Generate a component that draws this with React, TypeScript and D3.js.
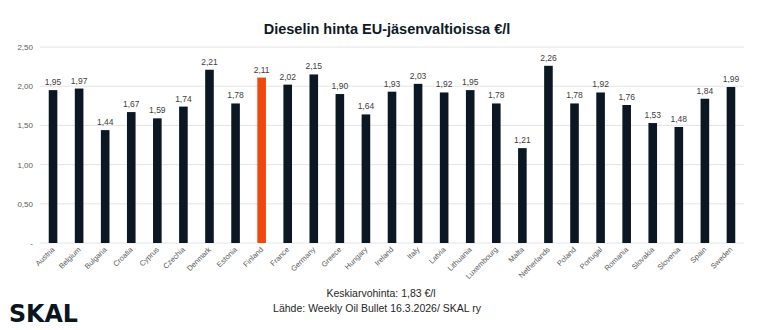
import React from "react";
import * as d3 from "d3";

const countries = ["Austria","Belgium","Bulgaria","Croatia","Cyprus","Czechia","Denmark","Estonia","Finland","France","Germany","Greece","Hungary","Ireland","Italy","Latvia","Lithuania","Luxembourg","Malta","Netherlands","Poland","Portugal","Romania","Slovakia","Slovenia","Spain","Sweden"];
const prices = [1.95,1.97,1.44,1.67,1.59,1.74,2.21,1.78,2.11,2.02,2.15,1.90,1.64,1.93,2.03,1.92,1.95,1.78,1.21,2.26,1.78,1.92,1.76,1.53,1.48,1.84,1.99];
const yTicks = [0, 0.5, 1, 1.5, 2, 2.5];
const highlight = "Finland";
const title = "Dieselin hinta EU-jäsenvaltioissa €/l";
const footer1 = "Keskiarvohinta: 1,83 €/l";
const footer2 = "Lähde: Weekly Oil Bullet 16.3.2026/ SKAL ry";

const W = 767, H = 330;
const fmt = (v: number) => (v === 0 ? "-" : d3.format(".2f")(v).replace(".", ","));

export default function App() {
  const x = d3.scaleBand<string>().domain(countries).range([40, 744]).paddingInner(0.67).paddingOuter(0.335);
  const y = d3.scaleLinear().domain([0, 2.5]).range([243, 47]);
  const font = "'Liberation Sans', Arial, sans-serif";
  return (
    <svg width={W} height={H} style={{ position: "absolute", left: 0, top: 0, background: "#fff" }} fontFamily={font}>
      <rect x={0} y={0} width={W} height={H} fill="#fff" />
      <text x={387} y={34} textAnchor="middle" fontFamily="'Liberation Sans Narrow', 'Arial Narrow', sans-serif" fontWeight="bold" fontSize={14.5} fill="#0d1a26">{title}</text>
      {yTicks.map((t) => (
        <g key={t}>
          <line x1={40} x2={744} y1={y(t)} y2={y(t)} stroke="#e4e4e4" strokeWidth={1} />
          <text x={33} y={y(t) + 3} textAnchor="end" fontSize={8} fill="#595959">{fmt(t)}</text>
        </g>
      ))}
      {countries.map((c, i) => {
        const bx = x(c)!;
        const bw = x.bandwidth();
        const v = prices[i];
        const cx = bx + bw / 2;
        return (
          <g key={c}>
            <rect x={bx} y={y(v)} width={bw} height={y(0) - y(v)} fill={c === highlight ? "#f0470f" : "#0b1823"} />
            <text x={cx} y={y(v) - 5} textAnchor="middle" fontSize={8.5} fill="#404040">{fmt(v)}</text>
            <text transform={`translate(${cx + 2},${250}) rotate(-45)`} textAnchor="end" fontSize={7.5} fill="#595959">{c}</text>
          </g>
        );
      })}
      <text x={381} y={297} textAnchor="middle" fontSize={10.5} fill="#262626">{footer1}</text>
      <text x={377} y={312} textAnchor="middle" fontSize={10.5} fill="#262626">{footer2}</text>
      <text x={9} y={322} fontFamily="'DejaVu Sans', sans-serif" fontWeight="bold" fontSize={24} fill="#0a1520" textLength={69} lengthAdjust="spacingAndGlyphs">SKAL</text>
    </svg>
  );
}
